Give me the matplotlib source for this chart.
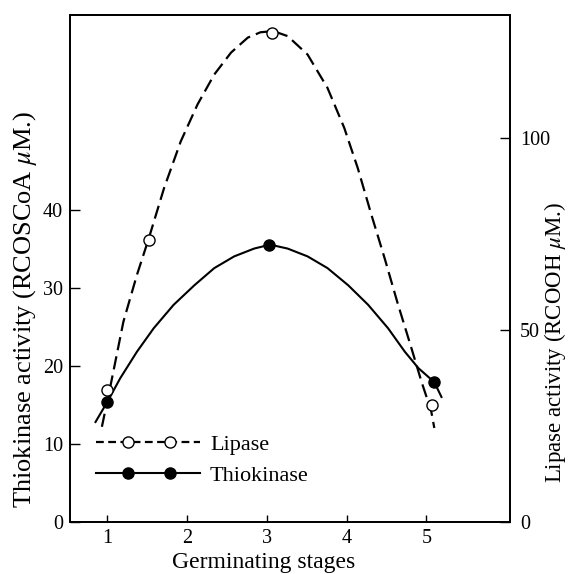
import matplotlib
matplotlib.use("Agg")
import matplotlib.pyplot as plt
from matplotlib.lines import Line2D
from matplotlib.legend_handler import HandlerBase

plt.rcParams['font.family'] = ['Liberation Serif', 'DejaVu Serif']
plt.rcParams['mathtext.fontset'] = 'stix'

# ---- data ----
stage_lipase = [1.0, 1.52, 3.07, 5.07]
lipase = [34.3, 73.5, 127.5, 30.4]          # right axis (RCOOH uM)
stage_thio = [1.0, 3.03, 5.1]
thio = [15.4, 35.5, 17.9]                   # left axis (RCOSCoA uM)

# hand-drawn curves
lipase_curve_x = [0.93, 1.04, 1.2, 1.37, 1.52, 1.71, 1.92, 2.13, 2.34, 2.55, 2.76, 2.92,
                  3.08, 3.26, 3.51, 3.76, 3.97, 4.14, 4.31, 4.48, 4.64, 4.81, 4.94, 5.06, 5.10]
lipase_curve_y = [24.8, 35.7, 52.2, 64.4, 74.0, 87.0, 99.2, 108.8, 116.6, 122.3, 126.2, 127.6,
                  127.9, 126.6, 121.8, 113.1, 102.7, 92.2, 80.1, 68.5, 57.0, 45.5, 36.5, 29.0, 24.5]
thio_curve_x = [0.85, 1.0, 1.16, 1.37, 1.58, 1.83, 2.09, 2.34, 2.59, 2.84, 3.04,
                3.26, 3.51, 3.76, 4.02, 4.27, 4.52, 4.73, 4.9, 5.1, 5.19]
thio_curve_y = [12.8, 15.4, 18.4, 21.8, 24.8, 27.8, 30.3, 32.5, 34.0, 35.0, 35.5,
                35.0, 34.0, 32.5, 30.3, 27.8, 24.8, 21.8, 19.7, 17.9, 16.0]

xticks = [1, 2, 3, 4, 5]
left_ticks = [0, 10, 20, 30, 40]
right_ticks = [0, 50, 100]

fig = plt.figure(figsize=(5.70, 5.74), dpi=100)
ax = fig.add_axes([0.1228, 0.0906, 0.772, 0.8833])
ax2 = ax.twinx()

TICK_FS = 14.5

# thiokinase (left axis)
ax.plot(thio_curve_x, thio_curve_y, color='black', lw=1.5, ls='-', zorder=2)
ax.plot(stage_thio, thio, ls='none', marker='o', ms=8, mfc='black', mec='black', zorder=3)

# lipase (right axis)
ax2.plot(lipase_curve_x, lipase_curve_y, color='black', lw=1.6, dashes=(6, 2.8), zorder=2)
ax2.plot(stage_lipase, lipase, ls='none', marker='o', ms=8, mfc='white', mec='black',
         mew=1.0, zorder=3)

ax.set_xlim(0.53, 6.05)
ax.set_ylim(0, 64.9)
ax2.set_ylim(0, 132.1)

ax.set_xticks(xticks)
ax.set_yticks(left_ticks)
ax2.set_yticks(right_ticks)

ax.tick_params(axis='x', direction='in', length=5, width=1, labelsize=TICK_FS, pad=5)
ax.tick_params(axis='y', direction='in', length=7, width=1, labelsize=TICK_FS, pad=5)
ax2.tick_params(axis='y', direction='in', length=7, width=1, labelsize=TICK_FS, pad=7)

for a in (ax, ax2):
    for s in a.spines.values():
        s.set_linewidth(1.3)

ax.set_xlabel('Germinating stages', fontsize=17)
ax.xaxis.set_label_coords(0.44, -0.06)
ax.set_ylabel(r'Thiokinase activity (RCOSCoA $\mu$M.)', fontsize=19)
ax.yaxis.set_label_coords(-0.07, 0.42)
ax2.set_ylabel(r'Lipase activity (RCOOH $\mu$M.)', fontsize=16.5, rotation=90)
ax2.yaxis.set_label_coords(1.072, 0.355)


class TwoMarkerHandler(HandlerBase):
    def create_artists(self, legend, orig_handle, xdescent, ydescent, width, height,
                       fontsize, trans):
        y = height / 2 - ydescent
        x0 = -xdescent
        line = Line2D([x0, x0 + width], [y, y])
        line.update_from(orig_handle)
        line.set_marker('None')
        line.set_transform(trans)
        mk = Line2D([x0 + 0.31 * width, x0 + 0.71 * width], [y, y])
        mk.update_from(orig_handle)
        mk.set_linestyle('None')
        mk.set_transform(trans)
        return [line, mk]


h_lip = Line2D([], [], color='black', lw=1.6, dashes=(3.5, 2.0), marker='o', ms=8,
               mfc='white', mec='black', mew=1.0)
h_thio = Line2D([], [], color='black', lw=1.5, ls='-', marker='o', ms=8,
                mfc='black', mec='black')
LEG_FS = 16
leg = ax2.legend([h_lip, h_thio], ['Lipase', 'Thiokinase'],
                 handler_map={h_lip: TwoMarkerHandler(), h_thio: TwoMarkerHandler()},
                 loc='center left', bbox_to_anchor=(0.059, 0.122), frameon=False,
                 fontsize=LEG_FS, handlelength=104 / (LEG_FS * 100 / 72),
                 handletextpad=0.45, labelspacing=0.48,
                 borderpad=0, borderaxespad=0)

fig.savefig('out.png', dpi=100)
